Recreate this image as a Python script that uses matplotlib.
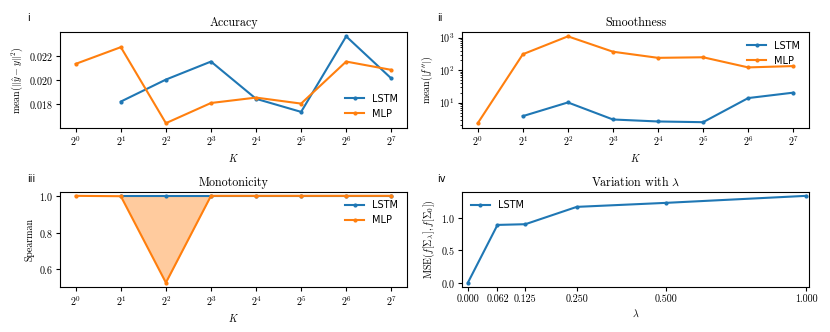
import numpy as np
import matplotlib
matplotlib.use("Agg")
import matplotlib.pyplot as plt

plt.rcParams["font.family"] = "serif"
plt.rcParams["font.serif"] = ["cmr10"]
plt.rcParams["mathtext.fontset"] = "cm"
plt.rcParams["axes.formatter.use_mathtext"] = True
plt.rcParams["font.size"] = 7.2
plt.rcParams["xtick.major.size"] = 2.6
plt.rcParams["ytick.major.size"] = 2.6
plt.rcParams["ytick.minor.size"] = 1.5
plt.rcParams["xtick.major.pad"] = 2.5
plt.rcParams["ytick.major.pad"] = 2.5
plt.rcParams["axes.labelpad"] = 2.8
plt.rcParams["axes.titlepad"] = 4.2

# data
K = [1, 2, 4, 8, 16, 32, 64, 128]
acc_lstm = [np.nan, 0.01817, 0.0200, 0.0215, 0.0184, 0.01731, 0.0236, 0.0201]
acc_mlp = [0.02131, 0.0227, 0.01637, 0.01805, 0.0185, 0.0180, 0.0215, 0.02081]
smooth_lstm = [np.nan, 3.87, 10.2, 3.05, 2.65, 2.52, 13.9, 20.4]
smooth_mlp = [2.35, 310, 1100, 370, 240, 250, 122, 134]
mono_lstm = [np.nan, 1.0, 1.0, 1.0, 1.0, 1.0, 1.0, 1.0]
mono_mlp = [1.0, 0.998, 0.527, 1.0, 1.0, 1.0, 1.0, 1.0]
lam = [0.0, 0.0625, 0.125, 0.25, 0.5, 1.0]
var_lstm = [0.0, 0.896, 0.907, 1.176, 1.238, 1.347]

blue = "tab:blue"
orange = "tab:orange"
legend_font = {"family": "DejaVu Sans", "size": 7}
line_kw = dict(marker="o", markersize=2, linewidth=1.5)

fig, axes = plt.subplots(2, 2, figsize=(8.3, 3.32), dpi=100)
fig.subplots_adjust(left=0.0723, right=0.9747, top=0.9036, bottom=0.1355,
                    wspace=0.1585, hspace=0.67)
ax1, ax2, ax3, ax4 = axes.flat

# i - accuracy
ax1.plot(K, acc_lstm, color=blue, label="LSTM", **line_kw)
ax1.plot(K, acc_mlp, color=orange, label="MLP", **line_kw)
ax1.set_xscale("log", base=2)
ax1.set_yticks([0.018, 0.020, 0.022])
ax1.set_title("Accuracy")
ax1.set_xlabel("$K$")
ax1.set_ylabel(r"mean$(\|\hat{y} - y\|^2)$")
ax1.legend(loc="lower right", frameon=False, prop=legend_font)

# ii - smoothness
ax2.plot(K, smooth_lstm, color=blue, label="LSTM", **line_kw)
ax2.plot(K, smooth_mlp, color=orange, label="MLP", **line_kw)
ax2.set_xscale("log", base=2)
ax2.set_yscale("log")
ax2.set_title("Smoothness")
ax2.set_xlabel("$K$")
ax2.set_ylabel(r"mean$(|f''|)$")
ax2.legend(loc="upper right", frameon=False, prop=legend_font)

# iii - monotonicity
ax3.plot(K, mono_lstm, color=blue, label="LSTM", **line_kw)
ax3.plot(K, mono_mlp, color=orange, label="MLP", **line_kw)
ax3.fill_between(K, mono_lstm, mono_mlp, color=orange, alpha=0.4, linewidth=0)
ax3.set_xscale("log", base=2)
ax3.set_yticks([0.6, 0.8, 1.0])
ax3.set_title("Monotonicity")
ax3.set_xlabel("$K$")
ax3.set_ylabel("Spearman")
ax3.legend(loc="upper right", frameon=False, prop=legend_font)

# iv - variation with lambda
ax4.plot(lam, var_lstm, color=blue, label="LSTM", **line_kw)
ax4.set_xscale("function", functions=(lambda x: np.log2(1 + x),
                                      lambda y: 2 ** y - 1))
ax4.set_xticks(lam)
ax4.set_xticklabels([f"{v:.3f}" for v in lam])
ax4.set_xlim(-0.012, 1.012)
ax4.set_yticks([0.0, 0.5, 1.0])
ax4.set_title(r"Variation with $\lambda$")
ax4.set_xlabel(r"$\lambda$")
ax4.set_ylabel(r"$\mathrm{MSE}(f[\Sigma_\lambda], f[\Sigma_0])$")
ax4.legend(loc="upper left", frameon=False, prop=legend_font)

# panel labels
for txt, x, y in [("i", 27, 18), ("ii", 437, 18), ("iii", 27, 179), ("iv", 437, 179)]:
    fig.text(x / 830, 1 - y / 332, txt, family="DejaVu Sans", fontsize=7,
             ha="left", va="center")

fig.savefig("out.png", dpi=100)
